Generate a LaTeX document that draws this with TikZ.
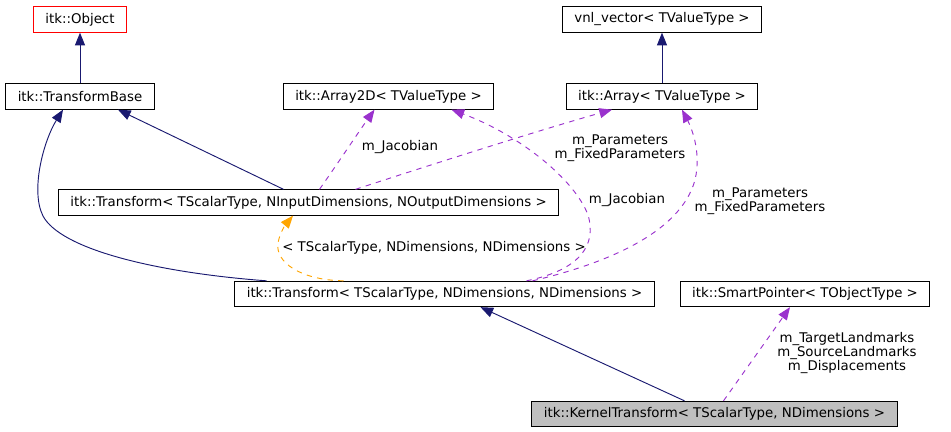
\documentclass[tikz,border=0pt]{standalone}
\usepackage{fontspec}
\setmainfont{DejaVu Sans}
\usepackage{xcolor}
\usepackage{tikz}
\usetikzlibrary{arrows.meta, calc}
\definecolor{EdgeNavy}{RGB}{25,25,112}
\definecolor{EdgeOrchid}{RGB}{154,50,205}
\definecolor{EdgeOrange}{RGB}{255,165,0}
\definecolor{BoxGray}{RGB}{191,191,191}

\begin{document}
\begin{tikzpicture}[x=0.75pt, y=-0.75pt,
  font=\fontsize{10}{10.5}\selectfont,
  cls/.style={draw=black, line width=0.75pt, minimum height=19pt,
              inner xsep=9pt, inner ysep=0pt},
  inh/.style={draw=EdgeNavy, line width=0.7pt,
              -{Triangle[length=9.5pt,width=7.5pt,fill=EdgeNavy]}},
  mem/.style={draw=EdgeOrchid, line width=0.7pt, dash pattern=on 4pt off 4pt,
              -{Triangle[length=9.5pt,width=7.5pt,fill=EdgeOrchid]}},
  tpl/.style={draw=EdgeOrange, line width=0.7pt, dash pattern=on 4pt off 4pt,
              -{Triangle[length=9.5pt,width=7.5pt,fill=EdgeOrange]}},
  lbl/.style={align=center, inner sep=0pt}]

\useasboundingbox (0,0) rectangle (951,432);

% Classes
\node[cls, draw=red] (obj)   at (80,19.5)    {itk::Object};
\node[cls] (tbase)  at (80,96.5)    {itk::TransformBase};
\node[cls] (arr2d)  at (388.5,96.5) {itk::Array2D< TValueType >};
\node[cls] (vnl)    at (662,19.5)   {vnl\_vector< TValueType >};
\node[cls] (arr)    at (662,96.5)   {itk::Array< TValueType >};
\node[cls] (tio)    at (308.5,202.5)
  {itk::Transform< TScalarType, NInputDimensions, NOutputDimensions >};
\node[cls] (tnd)    at (444.5,294)
  {itk::Transform< TScalarType, NDimensions, NDimensions >};
\node[cls] (sptr)   at (805,294)    {itk::SmartPointer< TObjectType >};
\node[cls, fill=BoxGray] (kern) at (714.5,414)
  {itk::KernelTransform< TScalarType, NDimensions >};

% Inheritance
\draw[inh] (tbase.north) -- (obj.south);
\draw[inh] (arr.north) -- (vnl.south);
\draw[inh] ($(tio.north)+(-25,0)$) -- ($(tbase.south)+(38,0)$);
\draw[inh] ($(tnd.north)+(-178,0)$)
  .. controls (150,272) and (60,248) .. (43,216)
  .. controls (30,190) and (44,140) .. ($(tbase.south)+(-17,0)$);
\draw[inh] ($(kern.north)+(-30,0)$) -- ($(tnd.south)+(36,0)$);

% Template instance
\draw[tpl] ($(tnd.north)+(-101,0)$)
  .. controls (300,280) and (275,262) .. (278,243)
  .. controls (280,232) and (286,224) .. ($(tio.south)+(-15.5,0)$);
\node[lbl, anchor=west] (tplLbl) at (282,248)
  {< TScalarType, NDimensions, NDimensions >};

% Members
\draw[mem] ($(tio.north)+(11,0)$)
  .. controls (340,160) and (360,130) .. ($(arr2d.south)+(-14,0)$);
\node[lbl] (jacA) at (400,147) {m\_Jacobian};

\draw[mem] ($(tio.north)+(47,0)$)
  .. controls (430,165) and (540,130) .. ($(arr.south)+(-50,0)$);
\node[lbl] (parA) at (620,148) {m\_Parameters\\m\_FixedParameters};

\draw[mem] ($(tnd.north)+(82,0)$)
  .. controls (580,270) and (597,245) .. (588,215)
  .. controls (575,180) and (520,135) .. ($(arr2d.south)+(63,0)$);
\node[lbl] (jacB) at (627,200) {m\_Jacobian};

\draw[mem] ($(tnd.north)+(88,0)$)
  .. controls (600,265) and (680,235) .. (695,180)
  .. controls (702,150) and (690,125) .. ($(arr.south)+(20,0)$);
\node[lbl] (parB) at (760,201) {m\_Parameters\\m\_FixedParameters};

\draw[mem] ($(kern.north)+(9,0)$) -- ($(sptr.south)+(-15,0)$);
\node[lbl] (lmk) at (847,353)
  {m\_TargetLandmarks\\m\_SourceLandmarks\\m\_Displacements};

\end{tikzpicture}
\end{document}
